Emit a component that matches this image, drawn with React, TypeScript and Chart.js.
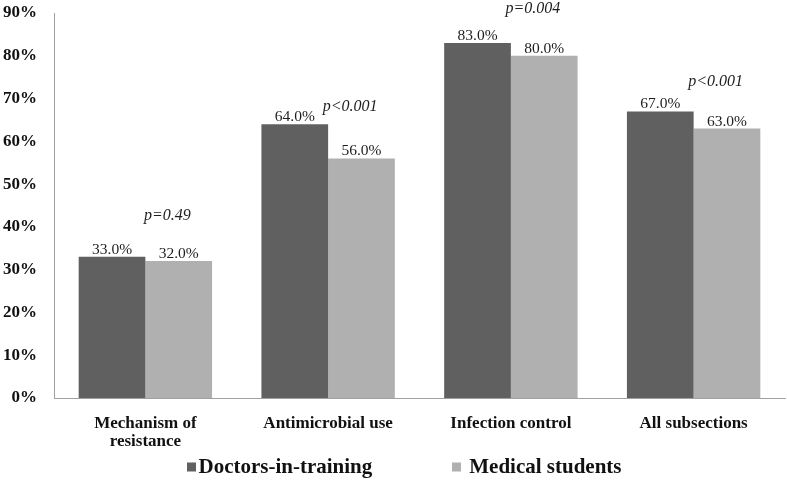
import React, { useEffect, useRef } from 'react';
import { Chart, registerables } from 'chart.js';

Chart.register(...registerables);

const categories: (string | string[])[] = [
  ['Mechanism of', 'resistance'],
  'Antimicrobial use',
  'Infection control',
  'All subsections',
];
const seriesNames = ['Doctors-in-training', 'Medical students'];
const doctorsValues = [33, 64, 83, 67];
const studentsValues = [32, 56, 80, 63];
const pValueLabels = ['p=0.49', 'p<0.001', 'p=0.004', 'p<0.001'];
const pValueLevels = [42.5, 68, 91, 74];
const yMax = 90;
const yStep = 10;

const SERIF = '"Liberation Serif", "Times New Roman", serif';
const DARK = '#606060';
const LIGHT = '#b0b0b0';
const colors = [DARK, LIGHT];

const annotatePlugin = {
  id: 'annotate',
  afterDraw(chart: any) {
    const ctx = chart.ctx as CanvasRenderingContext2D;
    ctx.save();
    // value labels
    ctx.fillStyle = '#1e1e1e';
    ctx.font = `15.5px ${SERIF}`;
    ctx.textAlign = 'center';
    ctx.textBaseline = 'alphabetic';
    chart.data.datasets.forEach((ds: any, di: number) => {
      const meta = chart.getDatasetMeta(di);
      meta.data.forEach((el: any, i: number) => {
        ctx.fillText(Number(ds.data[i]).toFixed(1) + '%', el.x, el.y - 3);
      });
    });
    // p-values
    const xs = chart.scales.x;
    const ys = chart.scales.y;
    const catW = (xs.right - xs.left) / categories.length;
    ctx.font = `italic 16px ${SERIF}`;
    ctx.textBaseline = 'middle';
    pValueLabels.forEach((t, i) => {
      ctx.fillText(t, xs.getPixelForValue(i) + catW * 0.12, ys.getPixelForValue(pValueLevels[i]));
    });
    // legend
    ctx.font = `bold 21px ${SERIF}`;
    ctx.textAlign = 'left';
    const box = 9;
    const gapText = [2, 8];
    const gapItems = 80;
    const widths = seriesNames.map((n) => ctx.measureText(n).width);
    const total = widths.reduce((a, w, i) => a + box + gapText[i] + w, 0) + gapItems;
    let x = chart.width / 2 + 11 - total / 2;
    const cy = 467;
    seriesNames.forEach((n, i) => {
      ctx.fillStyle = colors[i];
      ctx.fillRect(Math.round(x), cy - 4.5, box, box);
      ctx.fillStyle = '#111';
      ctx.fillText(n, x + box + gapText[i], cy + 1);
      x += box + gapText[i] + widths[i] + gapItems;
    });
    ctx.restore();
  },
};

export default function App() {
  const canvasRef = useRef<HTMLCanvasElement | null>(null);

  useEffect(() => {
    if (!canvasRef.current) return;
    const chart = new Chart(canvasRef.current, {
      type: 'bar',
      data: {
        labels: categories as any,
        datasets: [
          {
            label: seriesNames[0],
            data: doctorsValues,
            backgroundColor: DARK,
            categoryPercentage: 0.73,
            barPercentage: 1.0,
          },
          {
            label: seriesNames[1],
            data: studentsValues,
            backgroundColor: LIGHT,
            categoryPercentage: 0.73,
            barPercentage: 1.0,
          },
        ],
      },
      options: {
        animation: false,
        responsive: true,
        maintainAspectRatio: false,
        layout: { padding: { top: 13, right: 2, bottom: 30, left: 0 } },
        plugins: {
          legend: { display: false },
          tooltip: { enabled: false },
        },
        scales: {
          x: {
            grid: { display: false, drawTicks: false },
            border: { display: true, color: '#a0a0a0', width: 1 },
            ticks: {
              color: '#111',
              font: { family: SERIF, size: 17, weight: 'bold', lineHeight: 1.05 },
              padding: 17,
              maxRotation: 0,
              autoSkip: false,
            },
            afterFit: (s: any) => {
              s.height = 54;
            },
          },
          y: {
            min: 0,
            max: yMax,
            grid: { display: false, drawTicks: false },
            border: { display: true, color: '#a0a0a0', width: 1 },
            ticks: {
              stepSize: yStep,
              color: '#111',
              font: { family: SERIF, size: 17, weight: 'bold' },
              padding: 17,
              callback: (v: any) => v + '%',
            },
            afterFit: (s: any) => {
              s.width = 54;
              s.paddingTop = 0;
              s.paddingBottom = 0;
            },
          },
        },
      },
      plugins: [annotatePlugin],
    });
    return () => chart.destroy();
  }, []);

  return (
    <div style={{ position: 'fixed', left: 0, top: 0, width: 787, height: 482, background: '#fff' }}>
      <canvas ref={canvasRef} />
    </div>
  );
}
